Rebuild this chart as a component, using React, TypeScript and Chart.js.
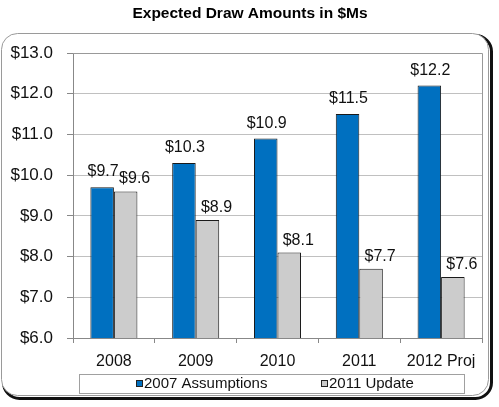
import React, { useEffect, useRef } from "react";
import { Chart, registerables } from "chart.js";

Chart.register(...registerables);

const categories = ["2008", "2009", "2010", "2011", "2012 Proj"];
const assumptions2007 = [9.7, 10.3, 10.9, 11.5, 12.2];
const update2011 = [9.6, 8.9, 8.1, 7.7, 7.5];
const assumptionsLabels = ["$9.7", "$10.3", "$10.9", "$11.5", "$12.2"];
const updateLabels = ["$9.6", "$8.9", "$8.1", "$7.7", "$7.6"];
const seriesNames = ["2007 Assumptions", "2011 Update"];
const titleText = "Expected Draw Amounts in $Ms";

const FONT = "'Liberation Sans', Arial, Helvetica, sans-serif";

function roundRect(ctx: CanvasRenderingContext2D, x: number, y: number, w: number, h: number, r: number) {
  ctx.beginPath();
  ctx.moveTo(x + r, y);
  ctx.lineTo(x + w - r, y);
  ctx.arcTo(x + w, y, x + w, y + r, r);
  ctx.lineTo(x + w, y + h - r);
  ctx.arcTo(x + w, y + h, x + w - r, y + h, r);
  ctx.lineTo(x + r, y + h);
  ctx.arcTo(x, y + h, x, y + h - r, r);
  ctx.lineTo(x, y + r);
  ctx.arcTo(x, y, x + r, y, r);
  ctx.closePath();
}

const framePlugin = {
  id: "frame",
  beforeDraw(chart: any) {
    const ctx = chart.ctx as CanvasRenderingContext2D;
    ctx.save();
    ctx.fillStyle = "#ffffff";
    ctx.fillRect(0, 0, chart.width, chart.height);
    // shadow
    roundRect(ctx, 3.5, 35.5, 488, 363, 16);
    ctx.strokeStyle = "#111111";
    ctx.lineWidth = 3;
    ctx.stroke();
    roundRect(ctx, 1.5, 33.5, 487, 362, 16);
    ctx.fillStyle = "#ffffff";
    ctx.fill();
    ctx.strokeStyle = "#9a9a9a";
    ctx.lineWidth = 1;
    ctx.stroke();
    // title
    ctx.fillStyle = "#000000";
    ctx.font = `bold 15.5px ${FONT}`;
    ctx.textAlign = "center";
    ctx.textBaseline = "middle";
    ctx.fillText(titleText, 250, 14);
    ctx.restore();
  },
  afterDatasetsDraw(chart: any) {
    const ctx = chart.ctx as CanvasRenderingContext2D;
    ctx.save();
    ctx.font = `16px ${FONT}`;
    ctx.fillStyle = "#111111";
    ctx.textBaseline = "alphabetic";
    ctx.textAlign = "center";
    const labelSets = [assumptionsLabels, updateLabels];
    chart.data.datasets.forEach((ds: any, di: number) => {
      const meta = chart.getDatasetMeta(di);
      meta.data.forEach((bar: any, i: number) => {
        const txt = labelSets[di][i];
        if (di === 0) {
          ctx.fillText(txt, bar.x + 1, bar.y - 11);
        } else {
          ctx.fillText(txt, bar.x + 9, bar.y - 8);
        }
      });
    });
    ctx.restore();
  },
  afterDraw(chart: any) {
    const ctx = chart.ctx as CanvasRenderingContext2D;
    ctx.save();
    // legend box
    ctx.strokeStyle = "#a0a0a0";
    ctx.lineWidth = 1;
    ctx.strokeRect(79.5, 374.5, 385, 19);
    ctx.font = `15px ${FONT}`;
    ctx.textBaseline = "middle";
    ctx.textAlign = "left";
    const xs = [136, 321];
    chart.data.datasets.forEach((ds: any, di: number) => {
      const x = xs[di];
      ctx.fillStyle = ds.backgroundColor;
      ctx.fillRect(x, 380, 7, 7);
      ctx.strokeStyle = "#222222";
      ctx.strokeRect(x + 0.5, 380.5, 6, 6);
      ctx.fillStyle = "#111111";
      ctx.fillText(ds.label, x + 8, 384);
    });
    ctx.restore();
  },
};

export default function App() {
  const ref = useRef<HTMLCanvasElement | null>(null);
  useEffect(() => {
    if (!ref.current) return;
    const chart = new Chart(ref.current, {
      type: "bar",
      data: {
        labels: categories,
        datasets: [
          {
            label: seriesNames[0],
            data: assumptions2007,
            backgroundColor: "#0070c0",
            borderColor: "#1a1a1a",
            borderWidth: 1,
            categoryPercentage: 0.575,
            barPercentage: 1,
          },
          {
            label: seriesNames[1],
            data: update2011,
            backgroundColor: "#cccccc",
            borderColor: "#1a1a1a",
            borderWidth: 1,
            categoryPercentage: 0.575,
            barPercentage: 1,
          },
        ],
      },
      options: {
        responsive: false,
        animation: false,
        devicePixelRatio: 1,
        layout: { padding: { left: 0, top: 53, right: 17, bottom: 39 } },
        plugins: {
          legend: { display: false },
          title: { display: false },
          tooltip: { enabled: false },
        },
        scales: {
          x: {
            offset: true,
            grid: {
              offset: true,
              drawOnChartArea: false,
              drawTicks: true,
              tickLength: 5,
              color: "#888888",
            },
            border: { display: true, color: "#888888" },
            ticks: {
              color: "#111111",
              font: { family: FONT, size: 16 },
              padding: 9,
              maxRotation: 0,
            },
            afterFit(scale: any) {
              scale.height = 30;
            },
          },
          y: {
            min: 6,
            max: 13,
            ticks: {
              stepSize: 1,
              color: "#111111",
              font: { family: FONT, size: 17 },
              padding: 14,
              callback: (v: any) => "$" + Number(v).toFixed(1),
            },
            grid: {
              color: "#c0c0c0",
              tickLength: 6,
              tickColor: "#888888",
            },
            border: { display: true, color: "#888888" },
            afterFit(scale: any) {
              scale.width = 73;
            },
          },
        },
      },
      plugins: [
        framePlugin,
        {
          id: "plotBorder",
          beforeDatasetsDraw(chart: any) {
            const { left, top, right } = chart.chartArea;
            const ctx = chart.ctx;
            ctx.save();
            ctx.strokeStyle = "#999999";
            ctx.lineWidth = 1;
            ctx.beginPath();
            ctx.moveTo(left, top + 0.5);
            ctx.lineTo(Math.round(right) + 0.5, top + 0.5);
            ctx.lineTo(Math.round(right) + 0.5, chart.chartArea.bottom);
            ctx.stroke();
            ctx.restore();
          },
        },
      ],
    });
    return () => chart.destroy();
  }, []);
  return (
    <div style={{ position: "absolute", left: 0, top: 0, width: 499, height: 407 }}>
      <canvas ref={ref} width={499} height={407} style={{ width: 499, height: 407 }} />
    </div>
  );
}
